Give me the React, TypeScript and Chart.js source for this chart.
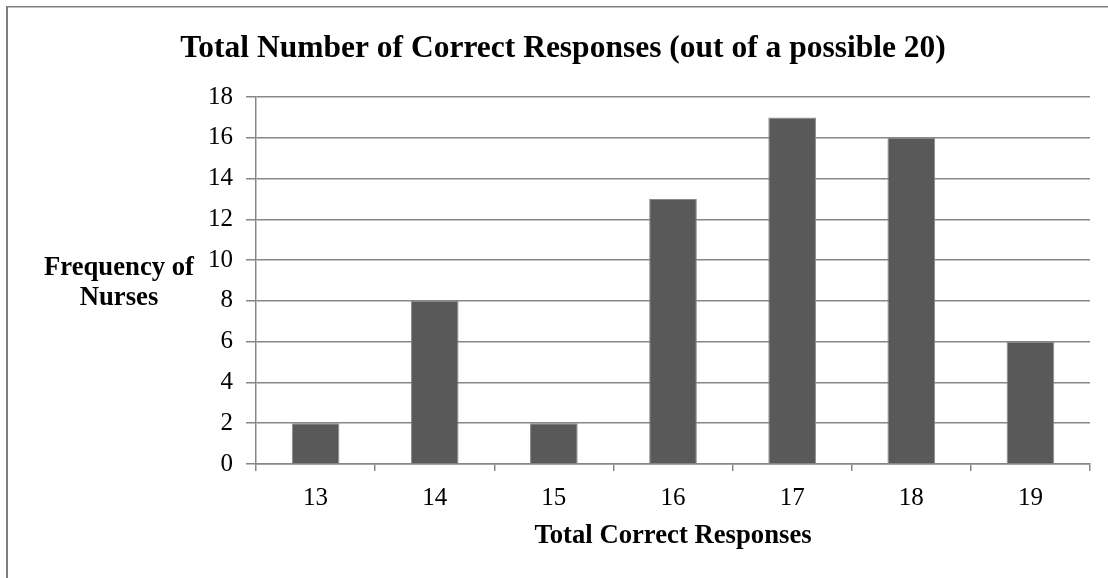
import React, { useEffect, useRef } from "react";
import { Chart, registerables } from "chart.js";

Chart.register(...registerables);

const categories = ["13", "14", "15", "16", "17", "18", "19"];
const frequencies = [2, 8, 2, 13, 17, 16, 6];
const chartTitle = "Total Number of Correct Responses (out of a possible 20)";
const xTitle = "Total Correct Responses";
const yTitleLines = ["Frequency of", "Nurses"];

const SERIF = "'Times New Roman', 'Liberation Serif', serif";
const GRID = "#878787";

export default function App() {
  const ref = useRef<HTMLCanvasElement | null>(null);
  useEffect(() => {
    document.body.style.margin = "0";
    const canvas = ref.current!;
    const decor = {
      id: "decor",
      beforeDraw(chart: any) {
        const ctx = chart.ctx;
        ctx.save();
        ctx.fillStyle = "#ffffff";
        ctx.fillRect(0, 0, chart.width, chart.height);
        ctx.strokeStyle = "#7f7f7f";
        ctx.lineWidth = 2;
        ctx.beginPath();
        ctx.moveTo(7, 600);
        ctx.lineTo(7, 6.5);
        ctx.stroke();
        ctx.lineWidth = 1.5;
        ctx.beginPath();
        ctx.moveTo(6, 6.75);
        ctx.lineTo(1200, 6.75);
        ctx.stroke();
        ctx.restore();
      },
      afterDraw(chart: any) {
        const ctx = chart.ctx;
        const area = chart.chartArea;
        ctx.save();
        ctx.fillStyle = "#000";
        ctx.textAlign = "center";
        ctx.textBaseline = "alphabetic";
        ctx.font = `bold 31.5px ${SERIF}`;
        ctx.fillText(chartTitle, 563, 57);
        ctx.font = `bold 26.7px ${SERIF}`;
        ctx.fillText(xTitle, (area.left + area.right) / 2, 543);
        ctx.fillText(yTitleLines[0], 119, 275);
        ctx.fillText(yTitleLines[1], 119, 305);
        ctx.restore();
      },
    };
    const chart = new Chart(canvas, {
      type: "bar",
      data: {
        labels: categories,
        datasets: [
          {
            data: frequencies,
            backgroundColor: "#595959",
            borderColor: "#8a8a8a",
            borderWidth: 1,
            barPercentage: 0.4,
            categoryPercentage: 1,
          },
        ],
      },
      options: {
        animation: false,
        responsive: false,
        devicePixelRatio: 1,
        layout: { padding: { left: 0, right: 18, top: 97, bottom: 0 } },
        plugins: { legend: { display: false }, title: { display: false }, tooltip: { enabled: false } },
        scales: {
          x: {
            offset: true,
            grid: { offset: true, drawOnChartArea: false, drawTicks: true, tickLength: 7, color: GRID, lineWidth: 1.5 },
            border: { color: GRID, width: 1.5 },
            ticks: { color: "#000", font: { family: SERIF, size: 25 }, padding: 12, maxRotation: 0 },
            afterFit(scale: any) {
              scale.height = 114;
            },
          },
          y: {
            min: 0,
            max: 18,
            grid: { color: GRID, lineWidth: 1.5, tickLength: 10, drawTicks: true },
            border: { color: GRID, width: 1.5 },
            ticks: { stepSize: 2, color: "#000", font: { family: SERIF, size: 25 }, padding: 13 },
            afterFit(scale: any) {
              scale.width = 256;
            },
          },
        },
      },
      plugins: [decor],
    });
    return () => chart.destroy();
  }, []);
  return <canvas ref={ref} width={1108} height={578} style={{ display: "block", width: 1108, height: 578 }} />;
}
